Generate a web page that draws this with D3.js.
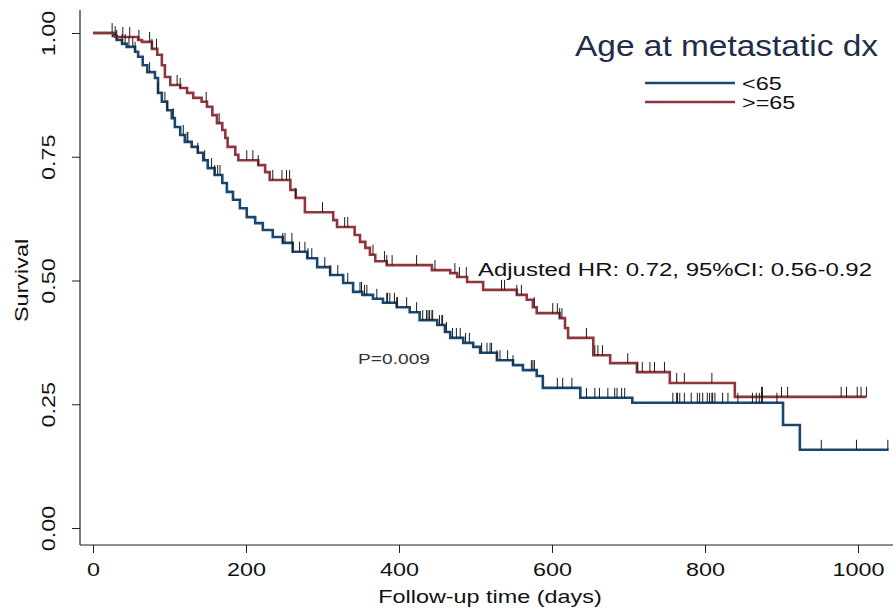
<!DOCTYPE html>
<html>
<head>
<meta charset="utf-8">
<script src="https://cdn.jsdelivr.net/npm/d3@7"></script>
<style>
  body { margin: 0; background: #fff; }
  svg { display: block; font-family: "Liberation Sans", Arial, sans-serif; }
</style>
</head>
<body>
<div id="canva"></div>
<script>
// Kaplan-Meier steps (days, survival)
const youngTimes = [26, 31, 38, 44, 55, 59, 65, 71, 81, 85, 90, 97, 103, 107, 114, 120, 129, 137, 144, 150, 159, 169, 175, 183, 192, 201, 212, 222, 235, 248, 261, 280, 293, 310, 327, 340, 352, 366, 379, 397, 414, 427, 450, 460, 467, 484, 497, 506, 528, 549, 562, 580, 588, 637, 705, 902, 924];
const youngSurv  = [0.994, 0.986, 0.978, 0.972, 0.962, 0.952, 0.935, 0.921, 0.909, 0.879, 0.861, 0.844, 0.828, 0.810, 0.794, 0.780, 0.770, 0.758, 0.743, 0.727, 0.713, 0.697, 0.679, 0.663, 0.646, 0.628, 0.616, 0.602, 0.588, 0.576, 0.558, 0.545, 0.527, 0.511, 0.495, 0.477, 0.471, 0.463, 0.455, 0.446, 0.436, 0.420, 0.410, 0.396, 0.384, 0.374, 0.366, 0.354, 0.339, 0.329, 0.319, 0.307, 0.283, 0.263, 0.253, 0.208, 0.158];
const youngEnd = 1040;
const youngCensor = [29, 31, 38, 42, 47, 52, 55, 74, 85, 94, 97, 105, 118, 123, 124, 137, 146, 155, 159, 163, 166,
  248, 251, 260, 261, 270, 277, 281, 286, 303, 310, 320, 333, 349, 351, 355, 358, 371, 384, 385, 388, 394, 397, 398, 410, 423,
  431, 436, 438, 440, 443, 444, 453, 456, 457, 462, 470, 475, 480, 487, 492, 508, 515, 519, 521, 528, 532, 542, 549,
  573, 575, 577, 607, 614, 626, 645, 656, 662, 673, 682, 685, 691, 695, 758, 763, 764, 767, 773,
  782, 790, 793, 797, 803, 806, 809, 810, 813, 823, 830, 843, 862, 867, 871, 874, 875, 894, 952, 998, 1039];

const oldTimes = [29, 59, 64, 77, 84, 90, 94, 101, 114, 123, 131, 142, 149, 156, 162, 169, 173, 176, 186, 190, 216, 225, 231, 258, 265, 277, 314, 319, 342, 349, 356, 362, 369, 384, 443, 467, 476, 489, 510, 554, 567, 575, 580, 610, 617, 621, 654, 676, 711, 754, 839];
const oldSurv  = [0.992, 0.986, 0.982, 0.968, 0.956, 0.935, 0.911, 0.895, 0.889, 0.879, 0.869, 0.861, 0.851, 0.834, 0.818, 0.804, 0.788, 0.770, 0.754, 0.743, 0.733, 0.719, 0.703, 0.683, 0.667, 0.638, 0.622, 0.608, 0.592, 0.578, 0.566, 0.552, 0.539, 0.531, 0.521, 0.515, 0.507, 0.497, 0.481, 0.471, 0.461, 0.446, 0.434, 0.424, 0.404, 0.384, 0.349, 0.333, 0.315, 0.293, 0.265];
const oldEnd = 1011;
const oldCensor = [25, 39, 48, 60, 74, 77, 83, 110, 114, 148, 165, 201, 209, 216, 235, 247, 253, 257, 265, 300, 329, 333,
  366, 381, 384, 391, 423, 447, 473, 479, 488, 534, 538, 554, 560, 577, 601, 607, 610, 613, 645, 656, 660, 666, 699,
  712, 718, 728, 734, 747, 763, 773, 809, 874, 875, 900, 908, 978, 985, 999, 1004, 1011];

const xTicks = [0, 200, 400, 600, 800, 1000];
const yTicks = [0, 0.25, 0.5, 0.75, 1];
const groups = ["<65", ">=65"];
const groupColors = ["#1a476f", "#90353b"];
const hrText = "Adjusted HR: 0.72, 95%CI: 0.56-0.92";
const pText = "P=0.009";

const width = 896, height = 614;
const wide = 1.3; // the original text is drawn wide

const svg = d3.select("#canva").append("svg")
  .attr("width", width)
  .attr("height", height)
  .attr("viewBox", `0 0 ${width} ${height}`);

const x = d3.scaleLinear().domain([0, 1000]).range([93, 858]);
const y = d3.scaleLinear().domain([0, 1]).range([528, 33]);

// axis frame (extends a little past the tick range, like Stata)
const x0 = 80, yBase = 545;
svg.append("line").attr("x1", x0).attr("x2", x0).attr("y1", 10).attr("y2", yBase)
  .attr("stroke", "#222").attr("stroke-width", 1.2);
svg.append("line").attr("x1", x0).attr("x2", 893).attr("y1", yBase).attr("y2", yBase)
  .attr("stroke", "#222").attr("stroke-width", 1.2);

const xAxis = svg.append("g")
  .attr("transform", `translate(0,${yBase})`)
  .call(d3.axisBottom(x).tickValues(xTicks).tickSize(8).tickPadding(10).tickFormat(d3.format("d")));
xAxis.select(".domain").remove();
xAxis.selectAll("line").attr("stroke", "#222");
xAxis.selectAll("text").attr("font-size", 18).attr("fill", "#111")
  .attr("font-family", "Liberation Sans, Arial, sans-serif")
  .attr("transform", `scale(${wide},1)`);

const yAxis = svg.append("g")
  .attr("transform", `translate(${x0},0)`)
  .call(d3.axisLeft(y).tickValues(yTicks).tickSize(8).tickFormat(d3.format(".2f")));
yAxis.select(".domain").remove();
yAxis.selectAll("line").attr("stroke", "#222");
yAxis.selectAll("text")
  .attr("font-size", 18).attr("fill", "#111")
  .attr("font-family", "Liberation Sans, Arial, sans-serif")
  .attr("text-anchor", "middle")
  .attr("x", 0).attr("dy", 0)
  .attr("transform", `translate(-25,0) rotate(-90) scale(${wide},1)`);

svg.append("text")
  .attr("transform", `translate(490,603) scale(${wide},1)`)
  .attr("text-anchor", "middle")
  .attr("font-size", 18).attr("fill", "#111")
  .text("Follow-up time (days)");

svg.append("text")
  .attr("transform", `translate(28,${y(0.5)}) rotate(-90) scale(${wide},1)`)
  .attr("text-anchor", "middle")
  .attr("font-size", 18).attr("fill", "#111")
  .text("Survival");

function stepPoints(times, surv, end) {
  const pts = [[0, 1]];
  times.forEach((t, i) => pts.push([t, surv[i]]));
  pts.push([end, surv[surv.length - 1]]);
  return pts;
}

function survAt(times, surv, t) {
  const i = d3.bisectRight(times, t);
  return i === 0 ? 1 : surv[i - 1];
}

const line = d3.line()
  .x(d => x(d[0]))
  .y(d => y(d[1]))
  .curve(d3.curveStepAfter);

const series = [
  { times: youngTimes, surv: youngSurv, end: youngEnd, censor: youngCensor, color: groupColors[0] },
  { times: oldTimes, surv: oldSurv, end: oldEnd, censor: oldCensor, color: groupColors[1] }
];

series.forEach(s => {
  svg.append("path")
    .datum(stepPoints(s.times, s.surv, s.end))
    .attr("fill", "none")
    .attr("stroke", s.color)
    .attr("stroke-width", 2.6)
    .attr("d", line);
});

series.forEach(s => {
  svg.append("g").selectAll("line")
    .data(s.censor)
    .enter()
    .append("line")
    .attr("x1", d => x(d)).attr("x2", d => x(d))
    .attr("y1", d => y(survAt(s.times, s.surv, d)))
    .attr("y2", d => y(survAt(s.times, s.surv, d)) - 10)
    .attr("stroke", "#1b1b1b")
    .attr("stroke-width", 1);
});

// legend
svg.append("text")
  .attr("x", 575).attr("y", 56)
  .attr("font-size", 30).attr("fill", "#1f2d4a")
  .attr("textLength", 303).attr("lengthAdjust", "spacingAndGlyphs")
  .text("Age at metastatic dx");

const legend = svg.append("g").selectAll("g")
  .data(groups)
  .enter()
  .append("g")
  .attr("transform", (d, i) => `translate(645,${83 + i * 19})`);
legend.append("line")
  .attr("x1", 0).attr("x2", 90)
  .attr("stroke", (d, i) => groupColors[i])
  .attr("stroke-width", 2.6);
legend.append("text")
  .attr("transform", `translate(97,7) scale(${wide},1)`)
  .attr("font-size", 18).attr("fill", "#111")
  .text(d => d);

svg.append("text")
  .attr("x", 478).attr("y", 276)
  .attr("font-size", 18).attr("fill", "#111")
  .attr("textLength", 394).attr("lengthAdjust", "spacingAndGlyphs")
  .text(hrText);

svg.append("text")
  .attr("x", 358).attr("y", 364)
  .attr("font-size", 14).attr("fill", "#333")
  .attr("textLength", 72).attr("lengthAdjust", "spacingAndGlyphs")
  .text(pText);
</script>
</body>
</html>
